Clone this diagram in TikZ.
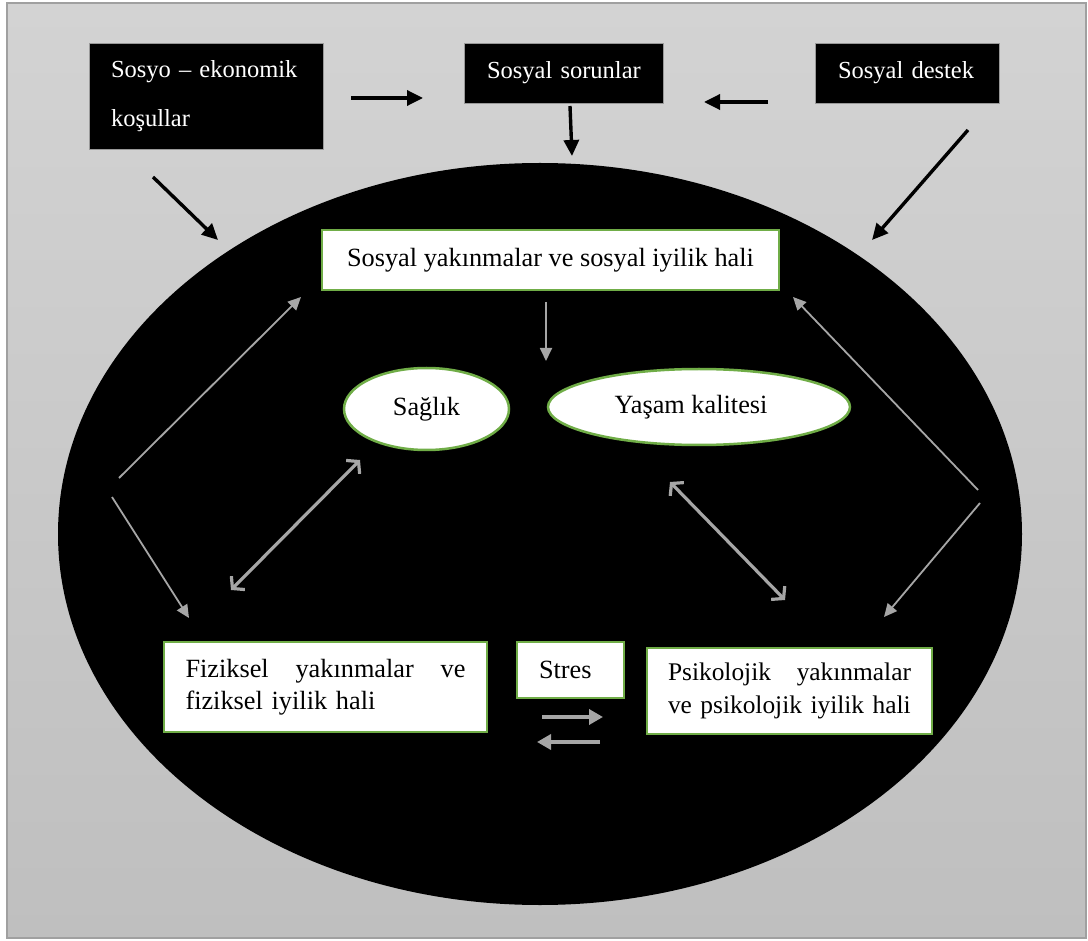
\documentclass[tikz,border=0pt]{standalone}
\usepackage{fontspec}
\setmainfont{Liberation Serif}
\usetikzlibrary{arrows.meta,shapes.geometric}
\definecolor{bgtop}{RGB}{211,211,211}
\definecolor{bgbot}{RGB}{191,191,191}
\definecolor{framecol}{RGB}{160,160,160}
\definecolor{ogreen}{RGB}{112,173,71}
\definecolor{agray}{RGB}{166,166,166}
\begin{document}
\begin{tikzpicture}[x=1pt,y=-1pt,
  blackbox/.style={fill=black, draw=gray!80, line width=0.8pt, text=white,
    font=\fontsize{24.5}{28}\selectfont, inner sep=0pt, align=left},
  greenbox/.style={fill=white, draw=ogreen, line width=2.5pt, text=black,
    font=\fontsize{26.3}{32.5}\selectfont, inner sep=0pt},
  greenell/.style={ellipse, fill=white, draw=ogreen, line width=2.5pt, text=black,
    font=\fontsize{26.3}{32.5}\selectfont, inner sep=0pt},
  barrow/.style={black, line width=3.4pt, -{Triangle[length=16pt,width=15pt]}},
  garrow/.style={agray, line width=1.8pt, -{Triangle[length=13pt,width=12pt]}},
  gdouble/.style={agray, line width=3.2pt,
    {Straight Barb[length=8pt,width=19pt]}-{Straight Barb[length=8pt,width=19pt]}},
  gstres/.style={agray, line width=4pt, -{Triangle[length=14pt,width=15pt]}},
]
\useasboundingbox (0,0) rectangle (1088,941);
\fill[white] (0,0) rectangle (1088,941);
\shade[top color=bgtop, bottom color=bgbot, draw=framecol, line width=1.5pt]
  (7,3) rectangle (1086,938);

% big black ellipse
\node[ellipse, fill=black, minimum width=964pt, minimum height=742pt, inner sep=0pt]
  (big) at (540,534) {};

% top black boxes
\node[blackbox, minimum width=234pt, minimum height=106pt, text width=190pt,
  font=\fontsize{24.5}{49}\selectfont] (sosyo) at (206,96) {\mbox{Sosyo – ekonomik}\\koşullar};
\node[blackbox, minimum width=199pt, minimum height=60pt, text width=153pt]
  (sorun) at (563.5,73) {\mbox{Sosyal sorunlar}};
\node[blackbox, minimum width=184pt, minimum height=60pt, text width=138pt]
  (destek) at (907,73) {\mbox{Sosyal destek}};

% inner nodes
\node[greenbox, minimum width=457pt, minimum height=60pt]
  (sosyal) at (550.5,260) {Sosyal yakınmalar ve sosyal iyilik hali};
\node[greenell, minimum width=165pt, minimum height=82pt]
  (saglik) at (426.5,409) {Sağlık};
\node[greenell, minimum width=302pt, minimum height=76pt]
  (yasam) at (699,407) {\hspace*{-16pt}Yaşam kalitesi};
\node[greenbox, minimum width=323pt, minimum height=90pt, text width=280pt, align=left]
  (fiz) at (325.5,687) {\makebox[280pt][l]{Fiziksel\hfill yakınmalar\hfill ve}\\\mbox{fiziksel iyilik hali}};
\node[greenbox, minimum width=107pt, minimum height=56pt, text width=63pt, align=left]
  (stres) at (570.5,670) {Stres};
\node[greenbox, minimum width=285pt, minimum height=86pt, text width=243pt, align=left,
  font=\fontsize{25.4}{32.5}\selectfont]
  (psi) at (789.5,691) {\makebox[243pt][l]{Psikolojik\hfill yakınmalar}\\\mbox{ve psikolojik iyilik hali}};

% connector end points
\coordinate (a1s) at (351,98);   \coordinate (a1e) at (423,98);
\coordinate (a2s) at (768,102);  \coordinate (a2e) at (704,102);
\coordinate (a3s) at (570,106);  \coordinate (a3e) at (572,156);
\coordinate (a4s) at (153,177);  \coordinate (a4e) at (218,240);
\coordinate (a5s) at (968,130);  \coordinate (a5e) at (872,240);
\coordinate (g1s) at (546,302);  \coordinate (g1e) at (546,361);
\coordinate (g2s) at (119,478);  \coordinate (g2e) at (301,297);
\coordinate (g3s) at (112,497);  \coordinate (g3e) at (189,618);
\coordinate (g4s) at (978,490);  \coordinate (g4e) at (793,297);
\coordinate (g5s) at (980,503);  \coordinate (g5e) at (884,617);
\coordinate (d1s) at (231,590);  \coordinate (d1e) at (360,460);
\coordinate (d2s) at (670,482);  \coordinate (d2e) at (785,600);
\coordinate (s1s) at (542,717);  \coordinate (s1e) at (603,717);
\coordinate (s2s) at (600,742);  \coordinate (s2e) at (537,742);

% black arrows
\draw[barrow] (a1s) -- (a1e);
\draw[barrow] (a2s) -- (a2e);
\draw[barrow] (a3s) -- (a3e);
\draw[barrow] (a4s) -- (a4e);
\draw[barrow] (a5s) -- (a5e);

% gray arrows
\draw[garrow] (g1s) -- (g1e);
\draw[garrow] (g2s) -- (g2e);
\draw[garrow] (g3s) -- (g3e);
\draw[garrow] (g4s) -- (g4e);
\draw[garrow] (g5s) -- (g5e);
\draw[gdouble] (d1s) -- (d1e);
\draw[gdouble] (d2s) -- (d2e);
\draw[gstres] (s1s) -- (s1e);
\draw[gstres] (s2s) -- (s2e);
\end{tikzpicture}
\end{document}
